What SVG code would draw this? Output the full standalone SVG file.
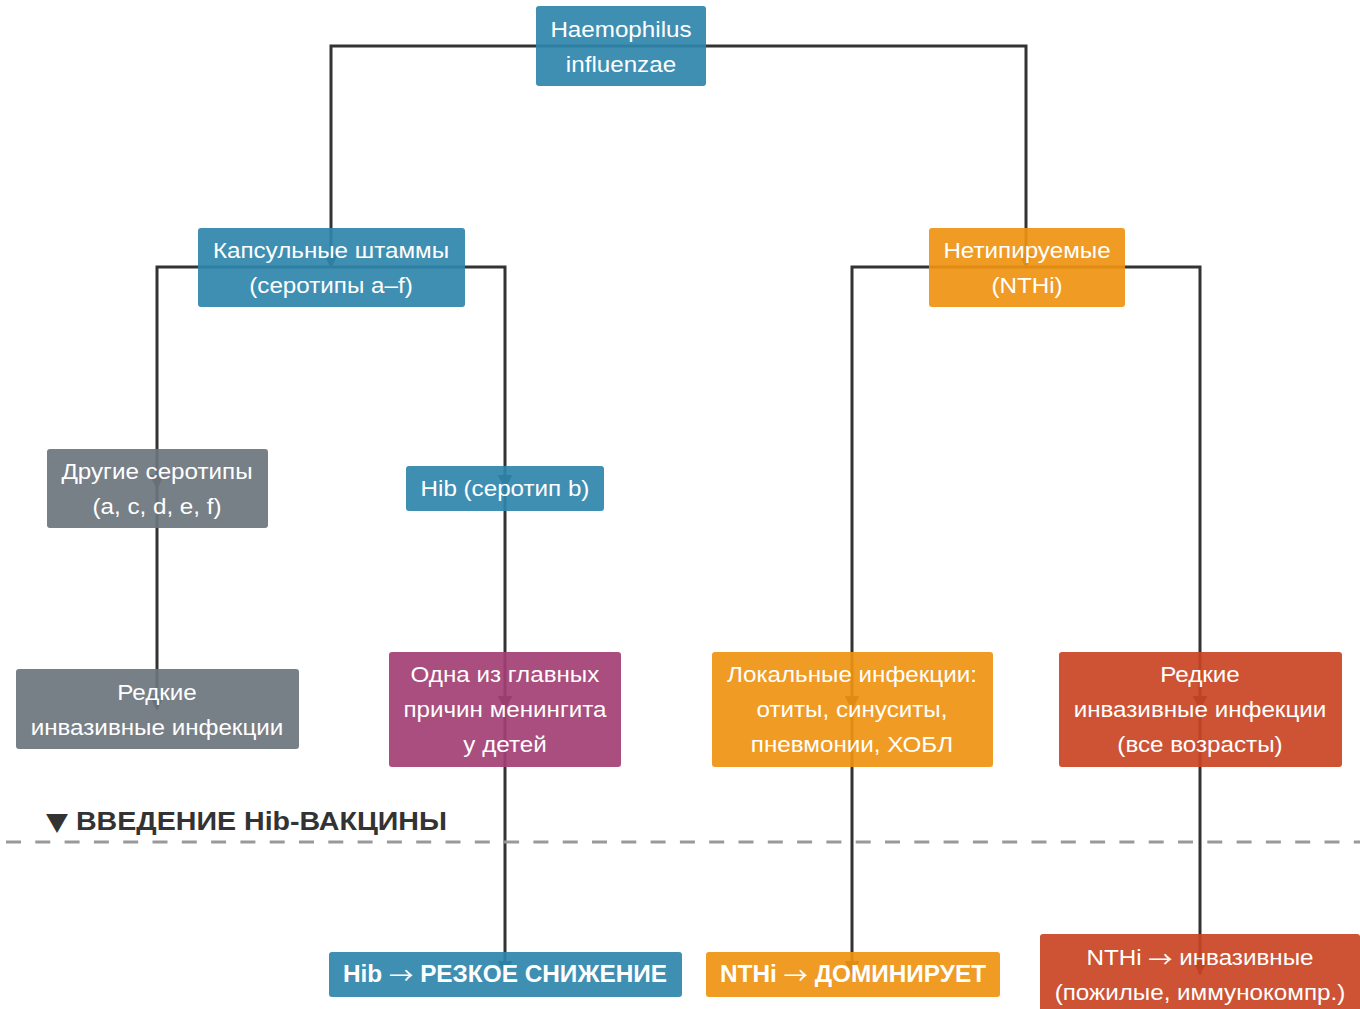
<svg xmlns="http://www.w3.org/2000/svg" width="1360" height="1009" viewBox="0 0 1360 1009">
<style>
.box{stroke:none;opacity:0.92}
.t{font-family:"Liberation Sans",Arial,sans-serif;font-size:22px;fill:#fff;text-anchor:middle;dominant-baseline:central;transform-box:fill-box;transform-origin:center;transform:scaleX(1.1)}
.b{font-weight:bold;font-size:23px;transform:none}
.ar{font-family:"Noto Sans CJK SC","DejaVu Sans",sans-serif;font-weight:normal}
.c{fill:none;stroke:#333;stroke-width:3}
.blue{fill:#2f86ad}.orange{fill:#ef9310}.grey{fill:#6b747d}.mag{fill:#a23f73}.red{fill:#c94423}
</style>
<defs>
<marker id="ah" viewBox="0 0 10 10" refX="9" refY="5" markerWidth="5" markerHeight="5" orient="auto" markerUnits="strokeWidth">
<path d="M0,0 L10,5 L0,10 z" fill="#333"/>
</marker>
</defs>
<rect width="1360" height="1009" fill="#fff"/>
<g id="connectors">
<path class="c" d="M621,46 H331 V267" marker-end="url(#ah)"/>
<path class="c" d="M621,46 H1026 V267" marker-end="url(#ah)"/>
<path class="c" d="M331,267 H157 V488" marker-end="url(#ah)"/>
<path class="c" d="M331,267 H505 V488" marker-end="url(#ah)"/>
<path class="c" d="M1027,267 H852 V709" marker-end="url(#ah)"/>
<path class="c" d="M1027,267 H1200 V709" marker-end="url(#ah)"/>
<path class="c" d="M157,488 V709" marker-end="url(#ah)"/>
<path class="c" d="M505,488 V709" marker-end="url(#ah)"/>
<path class="c" d="M505,709 V974" marker-end="url(#ah)"/>
<path class="c" d="M852,709 V974" marker-end="url(#ah)"/>
<path class="c" d="M1200,709 V974" marker-end="url(#ah)"/>
</g>
<g id="divider">
<line x1="6" y1="842" x2="1360" y2="842" stroke="#999" stroke-width="3" stroke-dasharray="15 14.3"/>
<text x="46" y="830" textLength="401" lengthAdjust="spacingAndGlyphs" font-family="'Liberation Sans',Arial,sans-serif" font-size="25" font-weight="bold" fill="#333"><tspan font-family="'DejaVu Sans',sans-serif">▼</tspan> ВВЕДЕНИЕ Hib-ВАКЦИНЫ</text>
</g>
<g id="n-root"><rect class="box blue" x="536" y="6" width="170" height="80" rx="3"/><text class="t" x="621" y="29">Haemophilus</text><text class="t" x="621" y="64">influenzae</text></g>
<g id="n-caps"><rect class="box blue" x="198" y="228" width="267" height="79" rx="3"/><text class="t" x="331" y="250">Капсульные штаммы</text><text class="t" x="331" y="285">(серотипы a–f)</text></g>
<g id="n-nthi"><rect class="box orange" x="929" y="228" width="196" height="79" rx="3"/><text class="t" x="1027" y="250">Нетипируемые</text><text class="t" x="1027" y="285">(NTHi)</text></g>
<g id="n-other"><rect class="box grey" x="47" y="449" width="221" height="79" rx="3"/><text class="t" x="157" y="471">Другие серотипы</text><text class="t" x="157" y="506">(a, c, d, e, f)</text></g>
<g id="n-hib"><rect class="box blue" x="406" y="466" width="198" height="45" rx="3"/><text class="t" x="505" y="488">Hib (серотип b)</text></g>
<g id="n-rare1"><rect class="box grey" x="16" y="669" width="283" height="80" rx="3"/><text class="t" x="157" y="692">Редкие</text><text class="t" x="157" y="727">инвазивные инфекции</text></g>
<g id="n-mening"><rect class="box mag" x="389" y="652" width="232" height="115" rx="3"/><text class="t" x="505" y="674">Одна из главных</text><text class="t" x="505" y="709">причин менингита</text><text class="t" x="505" y="744">у детей</text></g>
<g id="n-local"><rect class="box orange" x="712" y="652" width="281" height="115" rx="3"/><text class="t" x="852" y="674">Локальные инфекции:</text><text class="t" x="852" y="709">отиты, синуситы,</text><text class="t" x="852" y="744">пневмонии, ХОБЛ</text></g>
<g id="n-rare2"><rect class="box red" x="1059" y="652" width="283" height="115" rx="3"/><text class="t" x="1200" y="674">Редкие</text><text class="t" x="1200" y="709">инвазивные инфекции</text><text class="t" x="1200" y="744">(все возрасты)</text></g>
<g id="n-hibdown"><rect class="box blue" x="329" y="952" width="353" height="45" rx="3"/><text class="t b" x="505" y="974" textLength="324" lengthAdjust="spacingAndGlyphs">Hib <tspan class="ar">→</tspan> РЕЗКОЕ СНИЖЕНИЕ</text></g>
<g id="n-nthidom"><rect class="box orange" x="706" y="952" width="294" height="45" rx="3"/><text class="t b" x="853" y="974" textLength="266" lengthAdjust="spacingAndGlyphs">NTHi <tspan class="ar">→</tspan> ДОМИНИРУЕТ</text></g>
<g id="n-nthiinv"><rect class="box red" x="1040" y="934" width="320" height="80" rx="3"/><text class="t" x="1200" y="957">NTHi <tspan class="ar">→</tspan> инвазивные</text><text class="t" x="1200" y="992">(пожилые, иммунокомпр.)</text></g>
</svg>
